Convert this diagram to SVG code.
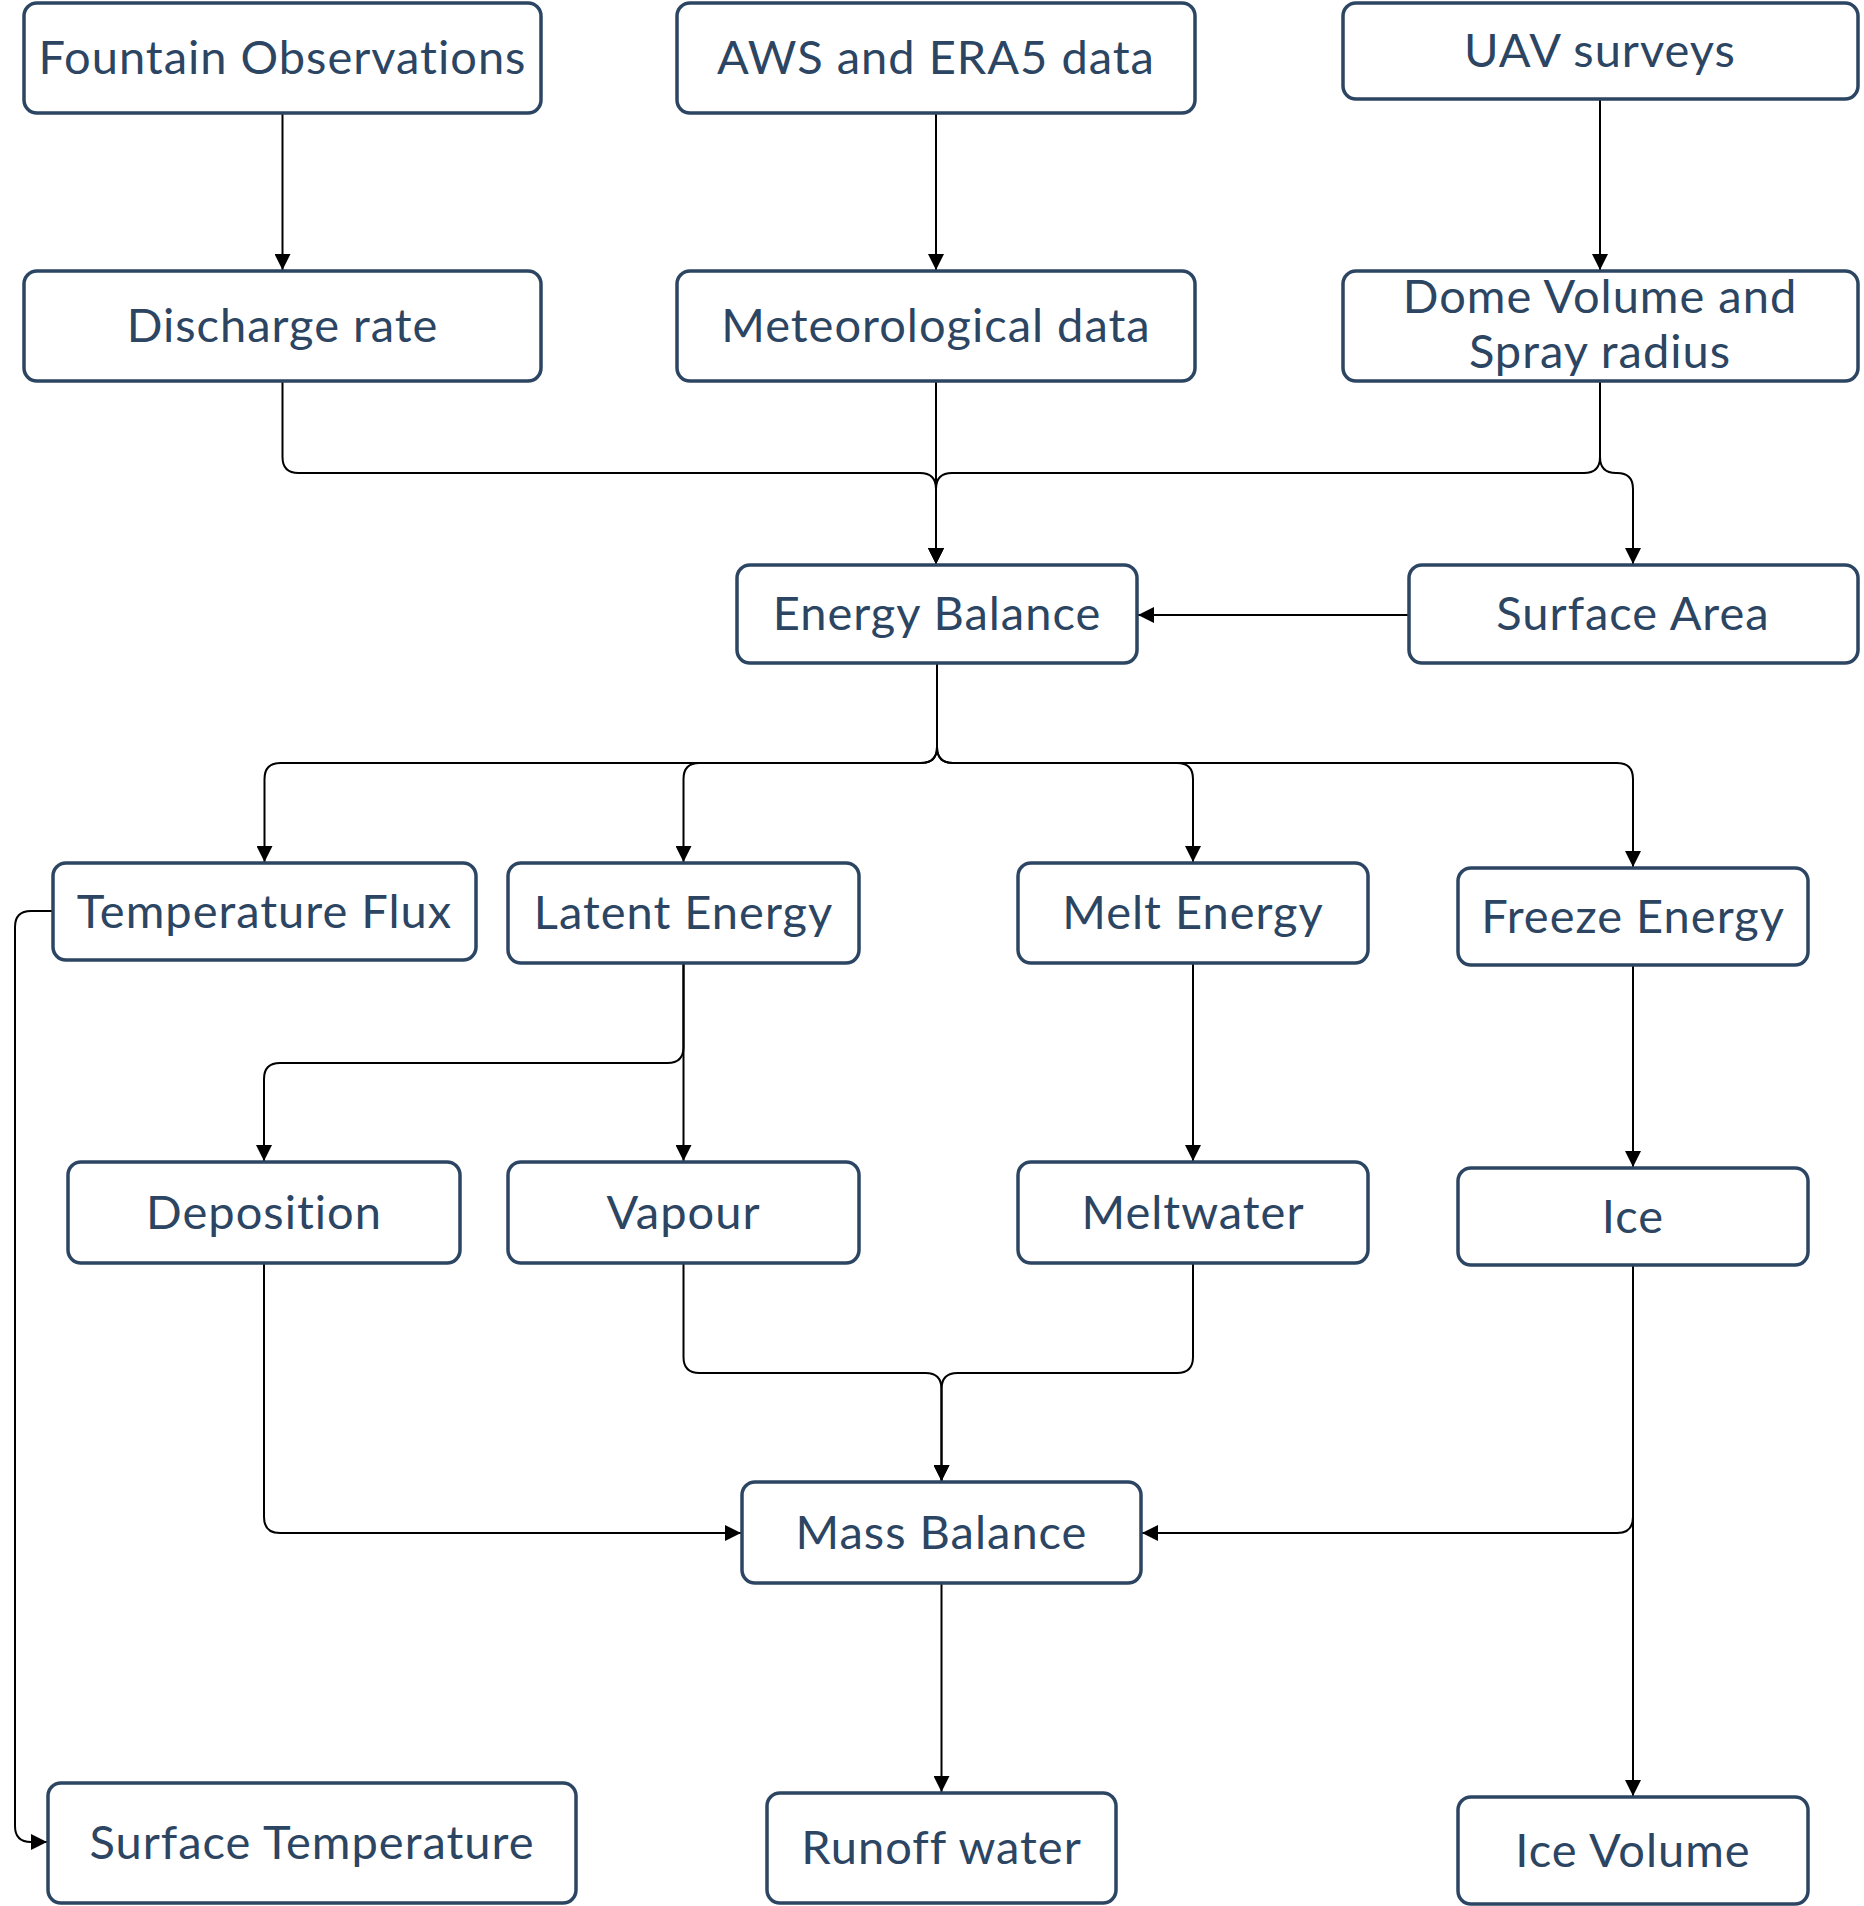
<svg xmlns="http://www.w3.org/2000/svg" width="1864" height="1906" viewBox="0 0 1864 1906">
<style>
.box{fill:#ffffff;stroke:#2c4562;stroke-width:3.5}
.lbl{font-family:Lato,"Liberation Sans",sans-serif;font-size:47px;letter-spacing:1px;fill:#2c4562;text-anchor:middle}
.edge{fill:none;stroke:#000000;stroke-width:2}
</style>
<defs>
<marker id="arr" viewBox="0 0 16 16" refX="16" refY="8" markerWidth="16" markerHeight="16" markerUnits="userSpaceOnUse" orient="auto">
<path d="M0,0 L16,8 L0,16 z" fill="#000000"/>
</marker>
</defs>
<rect width="1864" height="1906" fill="#ffffff"/>
<g id="connectors">
<path class="edge" marker-end="url(#arr)" d="M282.5 113 V270"/>
<path class="edge" marker-end="url(#arr)" d="M936 113 V270"/>
<path class="edge" marker-end="url(#arr)" d="M1600 99 V270"/>
<path class="edge" marker-end="url(#arr)" d="M282.5 381 V457 Q282.5 473 298.5 473 H920 Q936 473 936 489 V564"/>
<path class="edge" marker-end="url(#arr)" d="M936 381 V564"/>
<path class="edge" marker-end="url(#arr)" d="M1600 381 V457 Q1600 473 1584 473 H952 Q936 473 936 489 V564"/>
<path class="edge" marker-end="url(#arr)" d="M1600 381 V457 Q1600 473 1616 473 H1617 Q1633 473 1633 489 V564"/>
<path class="edge" marker-end="url(#arr)" d="M1409 615 H1138"/>
<path class="edge" marker-end="url(#arr)" d="M937 663 V747 Q937 763 921 763 H280.5 Q264.5 763 264.5 779 V862"/>
<path class="edge" marker-end="url(#arr)" d="M937 663 V747 Q937 763 921 763 H699.5 Q683.5 763 683.5 779 V862"/>
<path class="edge" marker-end="url(#arr)" d="M937 663 V747 Q937 763 953 763 H1177 Q1193 763 1193 779 V862"/>
<path class="edge" marker-end="url(#arr)" d="M937 663 V747 Q937 763 953 763 H1617 Q1633 763 1633 779 V867"/>
<path class="edge" marker-end="url(#arr)" d="M53 911 H31 Q15 911 15 927 V1826 Q15 1842 31 1842 H47"/>
<path class="edge" marker-end="url(#arr)" d="M683.5 963 V1047 Q683.5 1063 667.5 1063 H280 Q264 1063 264 1079 V1161"/>
<path class="edge" marker-end="url(#arr)" d="M683.5 963 V1161"/>
<path class="edge" marker-end="url(#arr)" d="M1193 963 V1161"/>
<path class="edge" marker-end="url(#arr)" d="M1633 965 V1167"/>
<path class="edge" marker-end="url(#arr)" d="M264 1263 V1517 Q264 1533 280 1533 H741"/>
<path class="edge" marker-end="url(#arr)" d="M683.5 1263 V1357 Q683.5 1373 699.5 1373 H925.5 Q941.5 1373 941.5 1389 V1481"/>
<path class="edge" marker-end="url(#arr)" d="M1193 1263 V1357 Q1193 1373 1177 1373 H957.5 Q941.5 1373 941.5 1389 V1481"/>
<path class="edge" marker-end="url(#arr)" d="M1633 1265 V1517 Q1633 1533 1617 1533 H1142"/>
<path class="edge" marker-end="url(#arr)" d="M1633 1265 V1796"/>
<path class="edge" marker-end="url(#arr)" d="M941.5 1583 V1792"/>
</g>
<g id="n-fountain"><rect class="box" x="24" y="3" width="517" height="110" rx="13"/><text class="lbl" x="282.5" y="74">Fountain Observations</text></g>
<g id="n-aws"><rect class="box" x="677" y="3" width="518" height="110" rx="13"/><text class="lbl" x="936" y="74">AWS and ERA5 data</text></g>
<g id="n-uav"><rect class="box" x="1343" y="3" width="515" height="96" rx="13"/><text class="lbl" x="1600" y="67">UAV surveys</text></g>
<g id="n-discharge"><rect class="box" x="24" y="271" width="517" height="110" rx="13"/><text class="lbl" x="282.5" y="342">Discharge rate</text></g>
<g id="n-met"><rect class="box" x="677" y="271" width="518" height="110" rx="13"/><text class="lbl" x="936" y="342">Meteorological data</text></g>
<g id="n-dome"><rect class="box" x="1343" y="271" width="515" height="110" rx="13"/><text class="lbl" x="1600" y="313">Dome Volume and</text><text class="lbl" x="1600" y="368">Spray radius</text></g>
<g id="n-energy"><rect class="box" x="737" y="565" width="400" height="98" rx="13"/><text class="lbl" x="937" y="630">Energy Balance</text></g>
<g id="n-surfarea"><rect class="box" x="1409" y="565" width="449" height="98" rx="13"/><text class="lbl" x="1633" y="630">Surface Area</text></g>
<g id="n-tempflux"><rect class="box" x="53" y="863" width="423" height="97" rx="13"/><text class="lbl" x="264.5" y="928">Temperature Flux</text></g>
<g id="n-latent"><rect class="box" x="508" y="863" width="351" height="100" rx="13"/><text class="lbl" x="683.5" y="929">Latent Energy</text></g>
<g id="n-melt"><rect class="box" x="1018" y="863" width="350" height="100" rx="13"/><text class="lbl" x="1193" y="929">Melt Energy</text></g>
<g id="n-freeze"><rect class="box" x="1458" y="868" width="350" height="97" rx="13"/><text class="lbl" x="1633" y="933">Freeze Energy</text></g>
<g id="n-deposition"><rect class="box" x="68" y="1162" width="392" height="101" rx="13"/><text class="lbl" x="264" y="1229">Deposition</text></g>
<g id="n-vapour"><rect class="box" x="508" y="1162" width="351" height="101" rx="13"/><text class="lbl" x="683.5" y="1229">Vapour</text></g>
<g id="n-meltwater"><rect class="box" x="1018" y="1162" width="350" height="101" rx="13"/><text class="lbl" x="1193" y="1229">Meltwater</text></g>
<g id="n-ice"><rect class="box" x="1458" y="1168" width="350" height="97" rx="13"/><text class="lbl" x="1633" y="1233">Ice</text></g>
<g id="n-mass"><rect class="box" x="742" y="1482" width="399" height="101" rx="13"/><text class="lbl" x="941.5" y="1549">Mass Balance</text></g>
<g id="n-surftemp"><rect class="box" x="48" y="1783" width="528" height="120" rx="13"/><text class="lbl" x="312" y="1859">Surface Temperature</text></g>
<g id="n-runoff"><rect class="box" x="767" y="1793" width="349" height="110" rx="13"/><text class="lbl" x="941.5" y="1864">Runoff water</text></g>
<g id="n-icevolume"><rect class="box" x="1458" y="1797" width="350" height="107" rx="13"/><text class="lbl" x="1633" y="1867">Ice Volume</text></g>
</svg>
